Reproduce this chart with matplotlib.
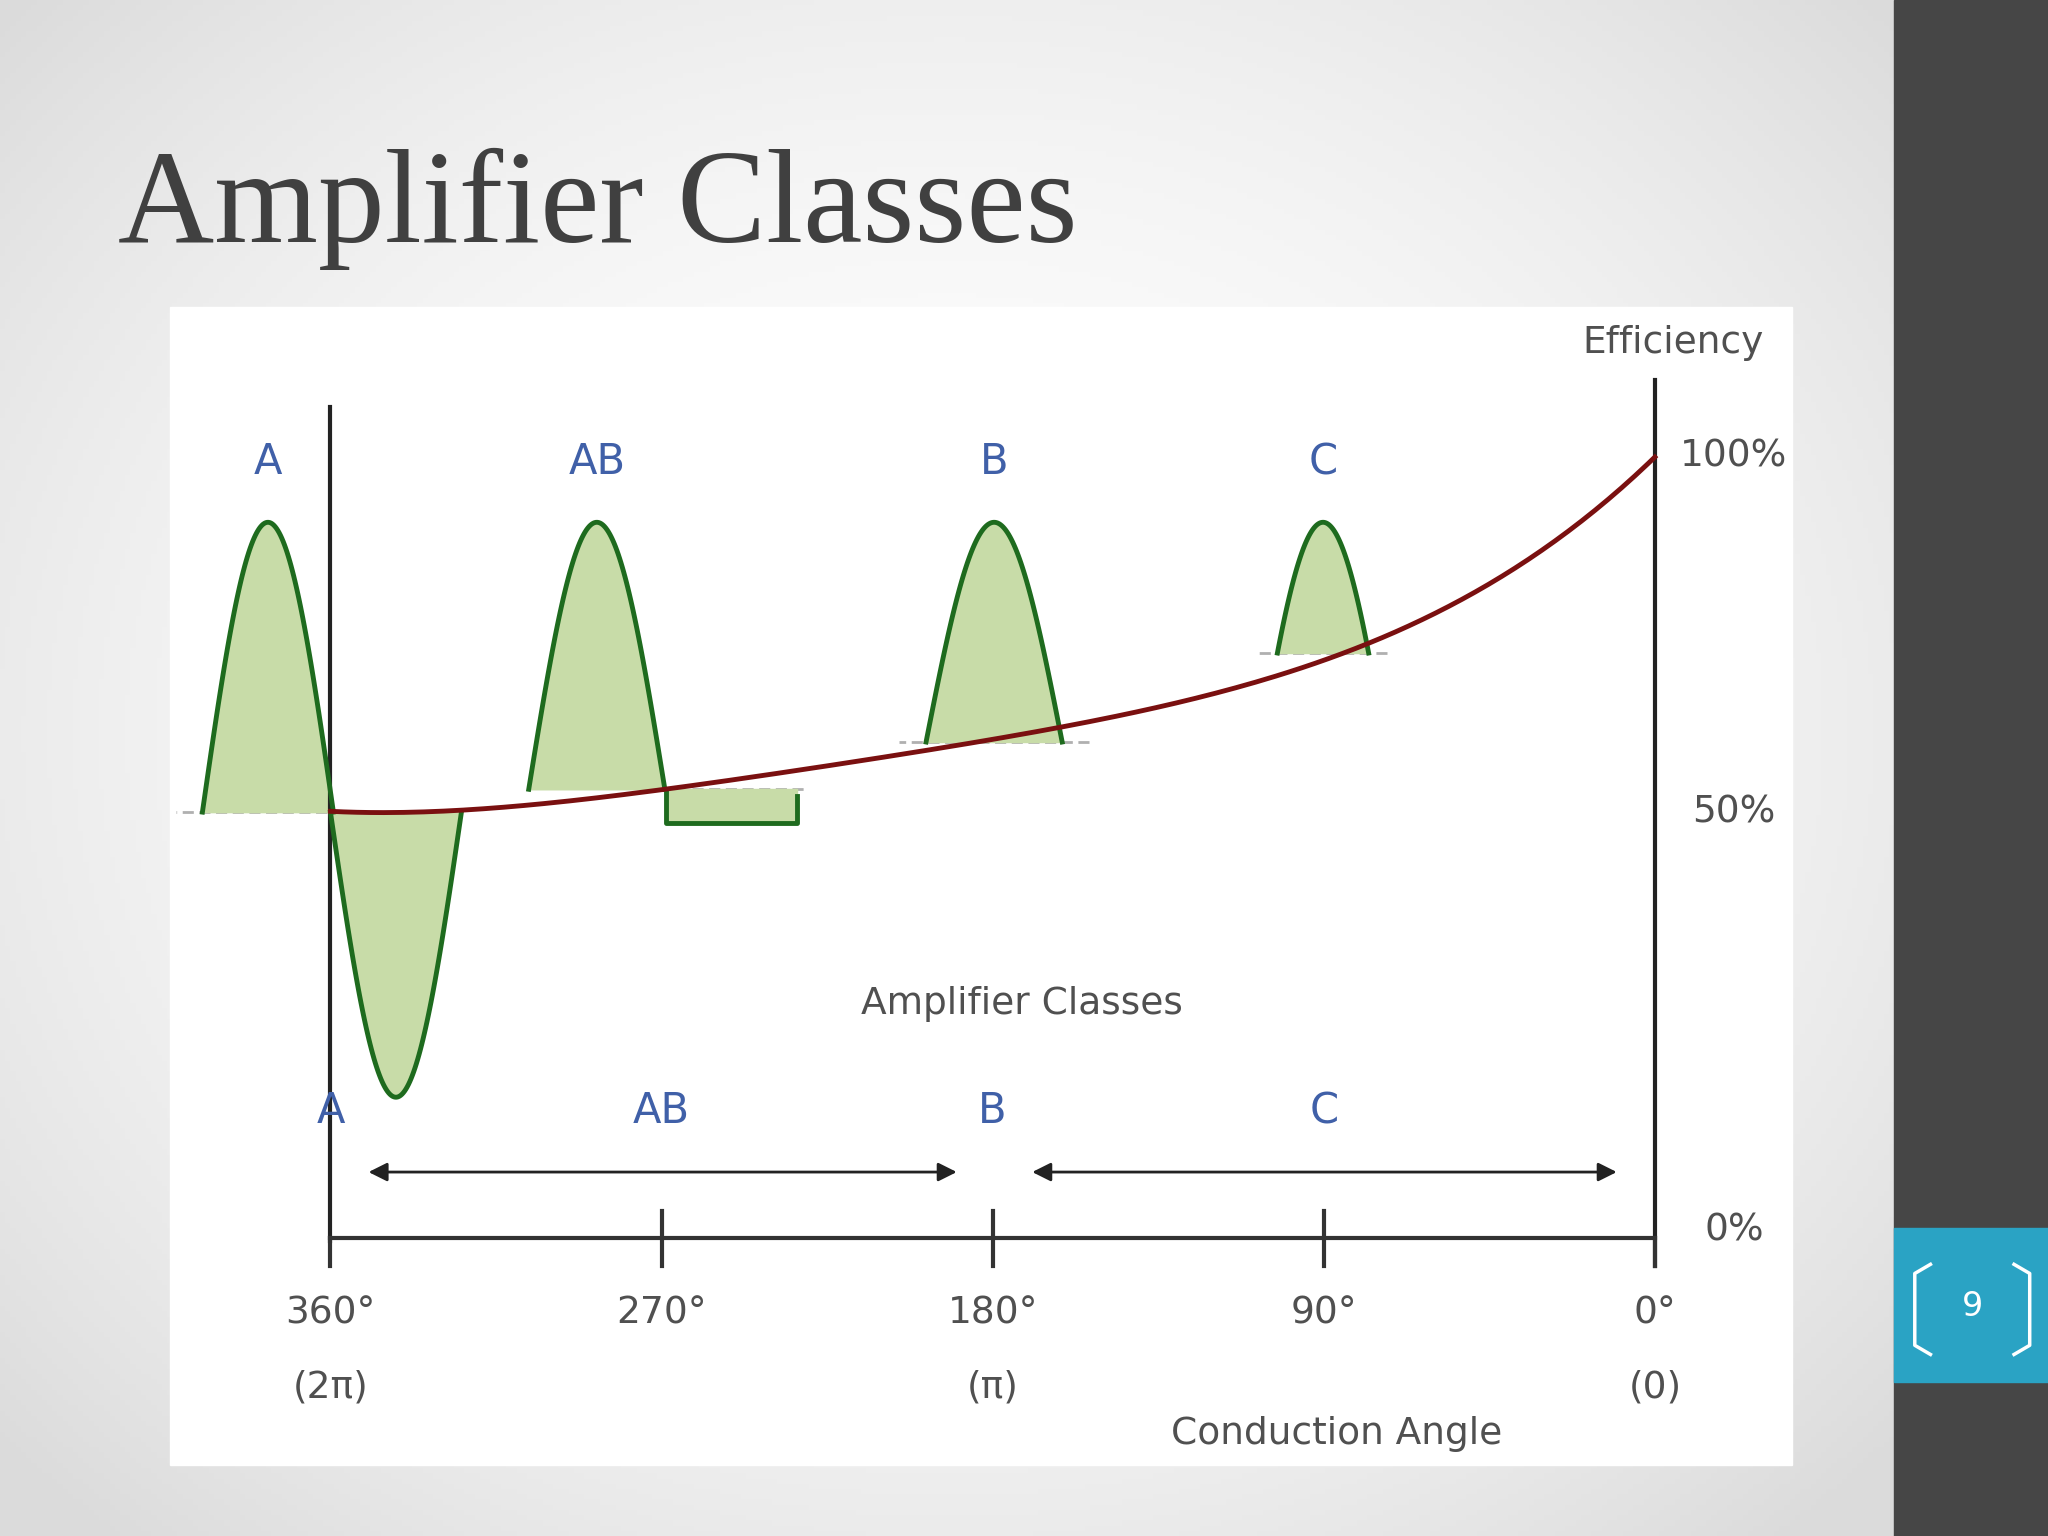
import numpy as np
import matplotlib
matplotlib.use("Agg")
import matplotlib.pyplot as plt
from matplotlib.patches import Rectangle

# ---- data ----
classes = ["A", "AB", "B", "C"]
class_label_deg = [377.0, 287.6, 179.6, 90.2]      # top labels
bottom_label_deg = [360, 270, 180, 90]             # labels above arrows
tick_deg = [360, 270, 180, 90, 0]
tick_labels = ["360°", "270°", "180°", "90°", "0°"]
tick_sub = ["(2π)", "", "(π)", "", "(0)"]
eff_curve_deg = [360, 307.8, 269.5, 229.7, 179.6, 130.3, 90.2, 59.3, 23.8, 0]
eff_curve_pct = [54.1, 55.2, 57.0, 59.4, 63.0, 68.5, 73.5, 79.3, 89.2, 99.5]
wave_center = [377.0, 287.6, 179.6, 90.2]
wave_half = [17.8, 18.5, 18.5, 12.4]
wave_base = [54.1, 57.0, 63.0, 74.3]
wave_peak = [90.9, 90.9, 90.9, 90.9]
wave_cut = [90, 90, 90, 60]   # conduction half-angle of drawn hump (deg)
a_trough = 17.9
ab_flat = [268.8, 233.3, 52.7]
eff_ticks = [("100%", 99.2), ("50%", 54.0), ("0%", 1.0)]

W, H = 1568, 1176
fig = plt.figure(figsize=(20.48, 15.36), dpi=100)
bg = fig.add_axes([0, 0, 1, 1])
bg.set_xlim(0, W); bg.set_ylim(H, 0); bg.axis("off")
yy, xx = np.mgrid[0:H:4, 0:1450:4]
r = np.sqrt(((xx - 725) / 900) ** 2 + ((yy - 560) / 760) ** 2)
g = np.clip(1 - 0.12 * r ** 2, 0.86, 1)
bg.imshow(np.dstack([g, g, g]), extent=(0, 1450, H, 0), aspect="auto", zorder=0)
bg.add_patch(Rectangle((1450, 0), 118, H, color="#464646", zorder=1))
bg.add_patch(Rectangle((1450, 940), 118, 118, color="#2aa3c4", zorder=2))
bg.text(1510, 1000, "9", color="white", fontsize=24, ha="center", va="center", zorder=3)
bg.plot([1478, 1466, 1466, 1478], [968, 975, 1030, 1037], color="white", lw=2.5, zorder=3)
bg.plot([1542, 1554, 1554, 1542], [968, 975, 1030, 1037], color="white", lw=2.5, zorder=3)
bg.add_patch(Rectangle((130, 235), 1242, 887, color="white", zorder=1))
bg.text(90, 185, "Amplifier Classes", fontsize=96, family="Liberation Serif",
        color="#404040", va="baseline", zorder=3)

ax = fig.add_axes([253 / W, 1 - 948 / H, 1014 / W, 603 / H])
ax.set_xlim(360, 0); ax.set_ylim(0, 100); ax.axis("off")
ax.patch.set_alpha(0)

green, fill, blue, txt = "#1e6b1e", "#c8dca8", "#4060a8", "#505050"
for i, (c, h, b, p, cut) in enumerate(zip(wave_center, wave_half, wave_base, wave_peak, wave_cut)):
    t0 = np.radians(cut)
    t = np.linspace(-t0, t0, 100)
    x = c + h * t / t0
    y = b + (p - b) * (np.cos(t) - np.cos(t0)) / (1 - np.cos(t0))
    ax.fill_between(x, b, y, color=fill, zorder=2, clip_on=False)
    ax.plot(x, y, color=green, lw=3.5, zorder=4, clip_on=False)
    ax.plot([c - h * 1.4, c + h * 1.4 if i != 1 else ab_flat[1] - 2], [b, b],
            color="#b0b0b0", lw=2, ls=(0, (4, 2)), zorder=1, clip_on=False)
# A negative half
t = np.linspace(0, np.pi, 100)
xa = 360 - 2 * wave_half[0] * t / np.pi
ya = wave_base[0] - (wave_base[0] - a_trough) * np.sin(t)
ax.fill_between(xa, wave_base[0], ya, color=fill, zorder=2)
ax.plot(xa, ya, color=green, lw=3.5, zorder=4, clip_on=False)
# AB flat negative part
fx = [ab_flat[0], ab_flat[0], ab_flat[1], ab_flat[1]]
fy = [wave_base[1], ab_flat[2], ab_flat[2], wave_base[1] - 0.8]
ax.fill_between([ab_flat[0], ab_flat[1]], ab_flat[2], wave_base[1], color=fill, zorder=2)
ax.plot(fx, fy, color=green, lw=3.5, zorder=4)
# efficiency curve (smoothed through read points)
coef = np.polyfit(eff_curve_deg, eff_curve_pct, 4)
xs = np.linspace(360, 0, 200)
ax.plot(xs, np.polyval(coef, xs), color="#7a1010", lw=3.5, zorder=5, clip_on=False)

ax.plot([360, 360], [-0.3, 105.5], color="#222", lw=3, clip_on=False)
ax.plot([0, 0], [-3.5, 109], color="#222", lw=3, clip_on=False)
ax.plot([360, 0], [0, 0], color="#333", lw=3, clip_on=False)
for d in tick_deg:
    ax.plot([d, d], [-3.5, 3.5] if d not in (360, 0) else [-3.5, 0], color="#333", lw=3, clip_on=False)
ay = 8.4
for x0, x1 in [(350.4, 189.0), (170.0, 9.6)]:
    ax.annotate("", xy=(x0, ay), xytext=(x1, ay),
                arrowprops=dict(arrowstyle="<|-|>", color="#222", lw=2, mutation_scale=28), annotation_clip=False)

fs = 27
for cl, d in zip(classes, class_label_deg):
    ax.text(d, 98.5, cl, color=blue, fontsize=fs + 3, ha="center", va="center", clip_on=False)
for cl, d in zip(classes, bottom_label_deg):
    ax.text(d, 16.1, cl, color=blue, fontsize=fs + 3, ha="center", va="center")
for d, l, s in zip(tick_deg, tick_labels, tick_sub):
    ax.text(d, -9.5, l, color=txt, fontsize=fs, ha="center", va="center")
    if s:
        ax.text(d, -19, s, color=txt, fontsize=fs, ha="center", va="center")
for l, v in eff_ticks:
    ax.text(-21.5, v, l, color=txt, fontsize=fs, ha="center", va="center")
ax.text(-5, 113.6, "Efficiency", color=txt, fontsize=fs, ha="center", va="center")
ax.text(172, 29.8, "Amplifier Classes", color=txt, fontsize=fs, ha="center", va="center")
ax.text(86.5, -24.9, "Conduction Angle", color=txt, fontsize=fs, ha="center", va="center")

fig.savefig("out.png", dpi=100)
